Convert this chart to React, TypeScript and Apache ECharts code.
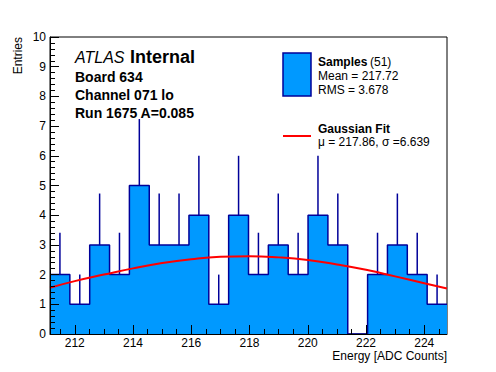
import React, { useEffect, useRef } from "react";
import * as echarts from "echarts";

// Histogram binning
const xMin = 211.15;
const xMax = 224.78;
const binCounts = [2, 1, 3, 2, 5, 3, 3, 4, 1, 4, 2, 3, 2, 4, 3, 0, 2, 3, 2, 1];
// Upper ends of the error bars
const errTops = [3.41, 2, 4.73, 3.41, 7.24, 4.73, 4.73, 6, 2, 6, 3.41, 4.73, 3.41, 6, 4.73, 0, 3.41, 4.73, 3.41, 2];

// Gaussian fit curve
const fitX = [211.15, 212, 213, 214, 215, 216, 217, 218, 219, 220, 221, 222, 223, 224, 224.78];
const fitY = [1.56, 1.78, 2.0, 2.21, 2.39, 2.52, 2.6, 2.62, 2.58, 2.49, 2.34, 2.16, 1.94, 1.71, 1.53];

// Axis ticks
const xMajorTicks = [212, 214, 216, 218, 220, 222, 224];
const xMinorTicks = [211.5, 212, 212.5, 213, 213.5, 214, 214.5, 215, 215.5, 216, 216.5, 217, 217.5, 218, 218.5, 219, 219.5, 220, 220.5, 221, 221.5, 222, 222.5, 223, 223.5, 224, 224.5];

const FONT = "'Liberation Sans', Arial, Helvetica, sans-serif";
const FILL = "#0099ff";
const EDGE = "#000099";

export default function App() {
  const ref = useRef<HTMLDivElement>(null);

  useEffect(() => {
    if (!ref.current) return;
    const chart = echarts.init(ref.current, undefined, { renderer: "svg" });

    const nb = binCounts.length;
    const w = (xMax - xMin) / nb;
    const stepData: number[][] = [];
    for (let i = 0; i < nb; i++) stepData.push([xMin + i * w, binCounts[i]]);
    stepData.push([xMax, binCounts[nb - 1]]);

    const errData: number[][] = [];
    for (let i = 0; i < nb; i++) {
      if (binCounts[i] > 0) errData.push([xMin + (i + 0.5) * w, binCounts[i], errTops[i]]);
    }

    const fitData = fitX.map((x, i) => [x, fitY[i]]);

    const txt = (text: string, size: number, weight: string = "normal", style: string = "normal") => ({
      text,
      fontFamily: FONT,
      fontSize: size,
      fontWeight: weight,
      fontStyle: style,
      fill: "#000",
    });

    chart.setOption({
      animation: false,
      backgroundColor: "#fff",
      grid: {
        left: 50,
        right: 49,
        top: 37,
        bottom: 38,
        containLabel: false,
        outerBoundsMode: "none",
        show: true,
        borderColor: "#000",
        borderWidth: 1,
        backgroundColor: "transparent",
      },
      xAxis: [
        {
          type: "value",
          min: xMin,
          max: xMax,
          axisLine: { show: true, onZero: false, lineStyle: { color: "#000", width: 1 } },
          axisTick: { show: true, inside: true, length: 9, customValues: xMajorTicks, lineStyle: { color: "#000" } },
          axisLabel: {
            show: true,
            customValues: xMajorTicks,
            fontFamily: FONT,
            fontSize: 12,
            color: "#000",
            margin: 3,
          },
          splitLine: { show: false },
          z: 10,
        },
        {
          type: "value",
          min: xMin,
          max: xMax,
          position: "bottom",
          axisLine: { show: false },
          axisTick: { show: true, inside: true, length: 5, customValues: xMinorTicks, lineStyle: { color: "#000" } },
          axisLabel: { show: false },
          splitLine: { show: false },
          z: 10,
        },
      ],
      yAxis: {
        type: "value",
        min: 0,
        max: 10,
        interval: 1,
        axisLine: { show: true, lineStyle: { color: "#000", width: 1 } },
        axisTick: { show: true, inside: true, length: 9, lineStyle: { color: "#000" } },
        minorTick: { show: true, splitNumber: 5, length: 5, lineStyle: { color: "#000" } },
        axisLabel: { fontFamily: FONT, fontSize: 12, color: "#000", margin: 4 },
        splitLine: { show: false },
        z: 10,
      },
      series: [
        {
          type: "line",
          step: "end",
          data: stepData,
          symbol: "none",
          lineStyle: { color: EDGE, width: 1.5 },
          areaStyle: { color: FILL, opacity: 1 },
          z: 2,
          silent: true,
        },
        {
          type: "custom",
          data: errData,
          z: 3,
          silent: true,
          renderItem: (params: any, api: any) => {
            const p0 = api.coord([api.value(0), api.value(1)]);
            const p1 = api.coord([api.value(0), api.value(2)]);
            return {
              type: "line",
              shape: { x1: p0[0], y1: p0[1], x2: p1[0], y2: p1[1] },
              style: { stroke: EDGE, lineWidth: 1.5 },
            };
          },
        },
        {
          type: "line",
          data: fitData,
          smooth: true,
          symbol: "none",
          lineStyle: { color: "#ff0000", width: 2 },
          z: 4,
          silent: true,
        },
      ],
      graphic: [
        {
          type: "text",
          x: 18,
          y: 37,
          rotation: Math.PI / 2,
          style: { ...txt("Entries", 12), align: "right", verticalAlign: "middle" },
        },
        {
          type: "text",
          x: 447,
          y: 356,
          style: { ...txt("Energy [ADC Counts]", 12), align: "right", verticalAlign: "middle" },
        },
        { type: "text", x: 75, y: 57, style: { ...txt("ATLAS", 16, "normal", "italic"), verticalAlign: "middle" } },
        { type: "text", x: 130, y: 57, style: { ...txt("Internal", 18, "bold"), verticalAlign: "middle" } },
        { type: "text", x: 75, y: 77, style: { ...txt("Board 634", 14, "bold"), verticalAlign: "middle" } },
        { type: "text", x: 75, y: 95, style: { ...txt("Channel 071 lo", 14, "bold"), verticalAlign: "middle" } },
        { type: "text", x: 75, y: 113, style: { ...txt("Run 1675 A=0.085", 14, "bold"), verticalAlign: "middle" } },
        {
          type: "rect",
          shape: { x: 283, y: 53, width: 28, height: 43 },
          style: { fill: FILL, stroke: EDGE, lineWidth: 1.5 },
        },
        { type: "text", x: 318, y: 62, style: { ...txt("Samples", 12, "bold"), verticalAlign: "middle" } },
        { type: "text", x: 370, y: 62, style: { ...txt("(51)", 12), verticalAlign: "middle" } },
        { type: "text", x: 318, y: 76, style: { ...txt("Mean = 217.72", 12), verticalAlign: "middle" } },
        { type: "text", x: 318, y: 90, style: { ...txt("RMS = 3.678", 12), verticalAlign: "middle" } },
        {
          type: "line",
          shape: { x1: 283, y1: 136, x2: 311, y2: 136 },
          style: { stroke: "#ff0000", lineWidth: 2 },
        },
        { type: "text", x: 318, y: 129, style: { ...txt("Gaussian Fit", 12, "bold"), verticalAlign: "middle" } },
        { type: "text", x: 318, y: 142, style: { ...txt("μ = 217.86, σ =6.639", 12), verticalAlign: "middle" } },
      ],
    });

    return () => chart.dispose();
  }, []);

  return (
    <div
      ref={ref}
      style={{ position: "fixed", left: 0, top: 0, width: 496, height: 372, background: "#fff" }}
    />
  );
}
